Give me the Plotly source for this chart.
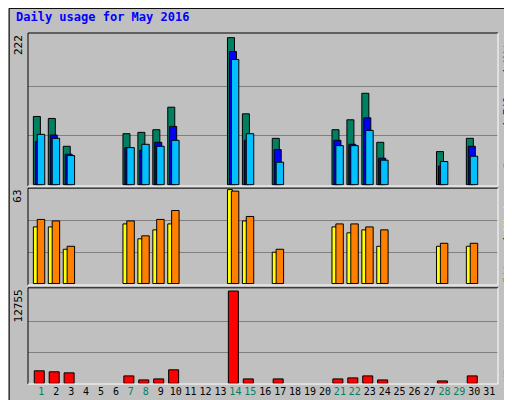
import plotly.graph_objects as go

days = list(range(1, 32))
active = [1, 2, 3, 7, 8, 9, 10, 14, 15, 17, 21, 22, 23, 24, 28, 30]
hits = [103, 100, 58, 77, 79, 83, 117, 222, 107, 70, 83, 98, 138, 64, 50, 70]
files = [65, 75, 46, 56, 52, 64, 88, 201, 67, 53, 67, 61, 101, 40, 28, 58]
pages = [76, 70, 44, 56, 61, 58, 67, 189, 77, 34, 59, 59, 82, 37, 35, 43]
sites = [38, 38, 23, 40, 30, 36, 40, 63, 42, 21, 38, 34, 36, 25, 25, 25]
visits = [43, 42, 25, 42, 32, 43, 49, 62, 45, 23, 40, 40, 38, 36, 27, 27]
kbytes = [1722, 1583, 1443, 1024, 465, 605, 1862, 12755, 605, 605, 605, 745, 1024, 465, 326, 1024]
weekend = [1, 7, 8, 14, 15, 21, 22, 28, 29]
max_hits, max_visits, max_kb = 222, 63, 12755

line = dict(color="black", width=1)
fig = go.Figure()
def bar(y, color, off, w, ax):
    fig.add_trace(go.Bar(x=active, y=y, offset=off, width=w, marker=dict(color=color, line=line),
                         xaxis="x", yaxis=ax, showlegend=False))
bar(hits, "#008060", -0.53, 0.47, "y")
bar(files, "#0000ff", -0.4, 0.47, "y")
bar(pages, "#00c0ff", -0.27, 0.5, "y")
bar(sites, "#ffff00", -0.53, 0.33, "y2")
bar(visits, "#ff8000", -0.27, 0.5, "y2")
bar(kbytes, "#ff0000", -0.47, 0.67, "y3")

grid = dict(showgrid=True, gridcolor="#808080", gridwidth=1, showticklabels=False, ticks="",
            zeroline=False, showline=False, automargin=False)
ticktext = [f"<span style='color:{'#008060' if d in weekend else 'black'}'>{d}</span>" for d in days]
fig.update_layout(
    width=512, height=400, margin=dict(l=20, r=22, t=25, b=24, autoexpand=False),
    paper_bgcolor="#c0c0c0", plot_bgcolor="#c0c0c0", barmode="overlay",
    font=dict(family="DejaVu Sans Mono", size=11, color="black"),
    xaxis=dict(range=[0.11, 31.59], tickvals=days, ticktext=ticktext, showgrid=False,
               zeroline=False, ticks="", anchor="y3", tickangle=0, automargin=False,
               tickfont=dict(size=10)),
    yaxis=dict(domain=[0.564, 1], range=[-2, 229], tickvals=[max_hits/3, 2*max_hits/3], **grid),
    yaxis2=dict(domain=[0.282, 0.558], range=[-1, 64], tickvals=[max_visits/3, 2*max_visits/3], **grid),
    yaxis3=dict(domain=[0, 0.274], range=[-100, 13200], tickvals=[max_kb/3, 2*max_kb/3], **grid),
)
shapes = []
for y0, y1 in [(0.564, 1), (0.282, 0.558), (0, 0.274)]:
    shapes.append(dict(type="line", xref="paper", yref="paper", x0=0, x1=0, y0=y0, y1=y1, line=dict(color="black", width=1)))
    shapes.append(dict(type="line", xref="paper", yref="paper", x0=0, x1=1, y0=y1, y1=y1, line=dict(color="black", width=1)))
    shapes.append(dict(type="line", xref="paper", yref="paper", x0=1, x1=1, y0=y0, y1=y1, line=dict(color="white", width=1)))
    shapes.append(dict(type="line", xref="paper", yref="paper", x0=0, x1=1, y0=y0, y1=y0, line=dict(color="white", width=1)))
shapes.append(dict(type="rect", xref="paper", yref="paper", x0=-0.040, x1=1.044, y0=-0.065, y1=1.07, line=dict(color="black", width=1)))
fig.update_layout(shapes=shapes)

ann = [
    dict(text="<b>Daily usage for May 2016</b>", x=-0.03, y=1.07, xanchor="left", yanchor="top",
         font=dict(color="#0000ff", size=12)),
    dict(text=str(max_hits), x=-0.003, y=1.0, xanchor="right", yanchor="top", textangle=-90),
    dict(text=str(max_visits), x=-0.003, y=0.558, xanchor="right", yanchor="top", textangle=-90),
    dict(text=str(max_kb), x=-0.003, y=0.274, xanchor="right", yanchor="top", textangle=-90),
    dict(text="<span style='color:#00c0ff'>Pages</span> / <span style='color:#0000ff'>Files</span> / <span style='color:#008060'>Hits</span>",
         x=1.003, y=1.0, xanchor="left", yanchor="top", textangle=-90),
    dict(text="<span style='color:#ff8000'>Sites</span> / <span style='color:#ffff00'>Visits</span>",
         x=1.003, y=0.558, xanchor="left", yanchor="top", textangle=-90),
    dict(text="<span style='color:#ff0000'>KBytes</span>", x=1.003, y=0.0, xanchor="left", yanchor="bottom", textangle=-90),
]
for a in ann:
    a.update(xref="paper", yref="paper", showarrow=False)
fig.update_layout(annotations=ann)
fig.write_html("out.html")
